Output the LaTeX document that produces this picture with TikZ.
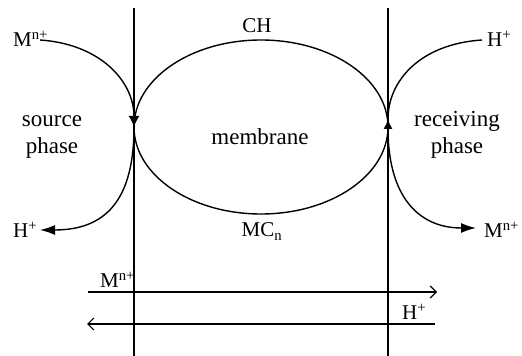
\documentclass[tikz,border=0pt]{standalone}
\usepackage{fontspec}
\setmainfont{Liberation Serif}
\usetikzlibrary{arrows.meta,shapes.geometric}
\begin{document}
\begin{tikzpicture}[x=1pt,y=1pt,
  wall/.style={line width=1.7pt},
  flow/.style={line width=1.4pt},
  bigtip/.style={-{Latex[length=15pt,width=10pt]}},
  chem/.style={inner sep=0pt,anchor=base west,font=\fontsize{21}{24}\selectfont},
  word/.style={inner sep=0pt,anchor=base,font=\fontsize{23}{27}\selectfont,align=center},
  track/.style={line width=1.2pt}]
\useasboundingbox (0,0) rectangle (522,356);
% membrane walls
\coordinate (lt) at (134,348); \coordinate (lb) at (134,0);
\coordinate (rt) at (388,348); \coordinate (rb) at (388,0);
\draw[wall] (lt) -- (lb);
\draw[wall] (rt) -- (rb);
% carrier cycle
\node[draw,ellipse,line width=1.4pt,minimum width=254pt,minimum height=174pt,inner sep=0pt] (cyc) at (261,229) {};
% labels
\node[chem] (mtl) at (13,309) {M\textsuperscript{n+}};
\node[chem] (htr) at (487,309) {H\textsuperscript{+}};
\node[chem] (hbl) at (13,118) {H\textsuperscript{+}};
\node[chem] (mbr) at (484,118) {M\textsuperscript{n+}};
\node[chem,anchor=base] (ch) at (257,323) {CH};
\node[chem,anchor=base] (mc) at (262,119) {MC\textsubscript{n}};
\node[word] (src) at (52,202) {source\\phase};
\node[word] (rcv) at (457,202) {receiving\\phase};
\node[word] (mem) at (260,211) {membrane};
\node[chem] (mlow) at (100,68) {M\textsuperscript{n+}};
\node[chem] (hlow) at (402,36) {H\textsuperscript{+}};
% junction points
\coordinate (lmid) at (134,229);
\coordinate (rmid) at (388,237);
\coordinate (ls) at (40,316);
\coordinate (le) at (40,126);
\coordinate (rs) at (482,316);
\coordinate (re) at (476,128);
% left exchange
\draw[flow,-{Latex[length=11pt,width=11pt]}] (ls) .. controls (100,312) and (134,275) .. (lmid);
\draw[flow,bigtip] (lmid) .. controls (134,155) and (105,126) .. (le);
% right exchange
\draw[flow] (rs) .. controls (420,312) and (388,275) .. (rmid);
\draw[flow,{Latex[length=10pt,width=9pt]}-{Latex[length=15pt,width=10pt]}] (rmid) .. controls (388,160) and (418,128) .. (re);
% overall transport
\coordinate (a1s) at (88,64); \coordinate (a1e) at (437,64);
\coordinate (a2s) at (435,32); \coordinate (a2e) at (87,32);
\draw[track,-{Straight Barb[length=6pt,width=12pt]}] (a1s) -- (a1e);
\draw[track,-{Straight Barb[length=6pt,width=12pt]}] (a2s) -- (a2e);
\end{tikzpicture}
\end{document}
